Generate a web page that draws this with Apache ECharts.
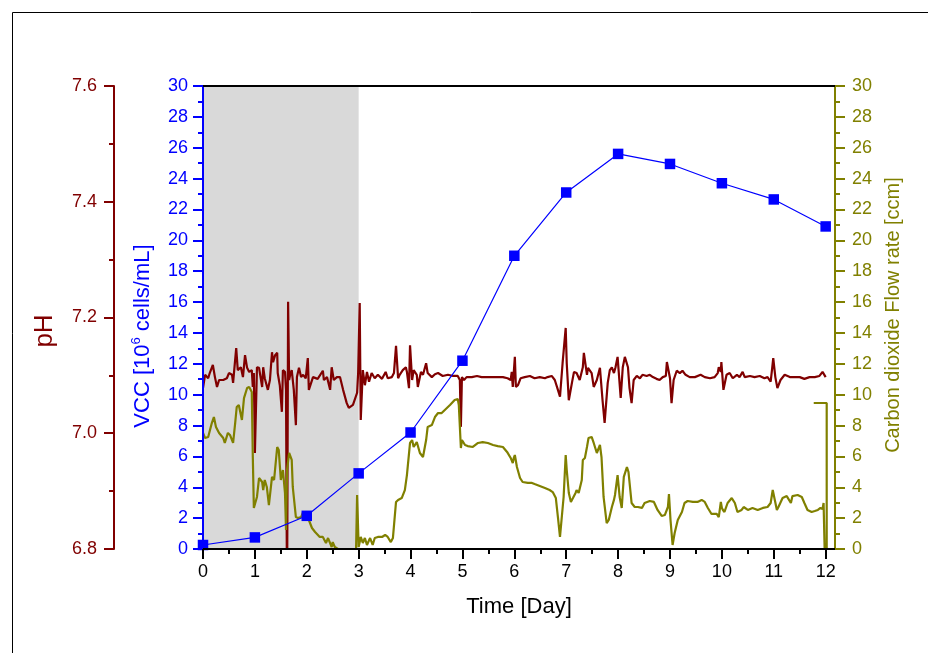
<!DOCTYPE html>
<html>
<head>
<meta charset="utf-8">
<script src="https://cdn.jsdelivr.net/npm/echarts@6/dist/echarts.min.js"></script>
<style>
html,body{margin:0;padding:0;background:#fff;}
#c{width:928px;height:653px;}
</style>
</head>
<body>
<div id="c"></div>
<script>
// ---- data ----
const xTicks = [0,1,2,3,4,5,6,7,8,9,10,11,12];
const xMinorTicks = [0.5,1.5,2.5,3.5,4.5,5.5,6.5,7.5,8.5,9.5,10.5,11.5];
const shadeRange = [0, 3];
const vccDays = [0,1,2,3,4,5,6,7,8,9,10,11,12];
const vccValues = [0.26,0.75,2.15,4.9,7.55,12.2,19.0,23.1,25.6,24.95,23.7,22.65,20.9];

const phSeries = [[0.00,7.078],[0.04,7.101],[0.10,7.095],[0.13,7.104],[0.19,7.118],[0.23,7.097],[0.27,7.080],[0.31,7.092],[0.39,7.092],[0.46,7.095],[0.50,7.104],[0.56,7.101],[0.58,7.087],[0.64,7.147],[0.67,7.109],[0.73,7.114],[0.77,7.097],[0.81,7.135],[0.85,7.113],[0.89,7.106],[0.94,7.109],[0.96,7.080],[0.98,7.104],[1.00,6.966],[1.04,7.114],[1.08,7.113],[1.14,7.080],[1.16,7.114],[1.19,7.095],[1.25,7.075],[1.29,7.092],[1.33,7.140],[1.35,7.123],[1.39,7.135],[1.43,7.139],[1.44,7.104],[1.48,7.083],[1.52,7.037],[1.54,7.109],[1.58,7.106],[1.60,7.075],[1.62,6.70],[1.64,7.227],[1.66,7.092],[1.68,7.101],[1.71,7.109],[1.75,7.075],[1.79,7.014],[1.81,7.097],[1.85,7.113],[1.89,7.097],[1.93,7.101],[1.98,7.095],[2.02,7.130],[2.04,7.075],[2.12,7.097],[2.21,7.094],[2.31,7.108],[2.33,7.092],[2.39,7.097],[2.45,7.075],[2.48,7.114],[2.52,7.092],[2.58,7.097],[2.64,7.097],[2.70,7.075],[2.77,7.052],[2.81,7.044],[2.89,7.049],[2.97,7.070],[2.99,7.104],[3.02,7.225],[3.04,7.023],[3.08,7.109],[3.12,7.083],[3.16,7.106],[3.20,7.089],[3.25,7.104],[3.31,7.095],[3.37,7.101],[3.45,7.094],[3.52,7.106],[3.56,7.095],[3.64,7.097],[3.68,7.104],[3.72,7.151],[3.76,7.095],[3.79,7.101],[3.85,7.109],[3.91,7.114],[3.93,7.106],[3.97,7.078],[3.99,7.152],[4.03,7.092],[4.06,7.109],[4.12,7.101],[4.14,7.080],[4.20,7.106],[4.24,7.101],[4.30,7.121],[4.33,7.104],[4.41,7.097],[4.47,7.102],[4.53,7.104],[4.62,7.099],[4.72,7.101],[4.82,7.099],[4.91,7.099],[4.95,7.092],[4.97,7.011],[4.99,7.097],[5.03,7.092],[5.08,7.097],[5.18,7.097],[5.28,7.099],[5.37,7.097],[5.51,7.097],[5.64,7.097],[5.78,7.097],[5.87,7.095],[5.93,7.092],[5.95,7.106],[5.97,7.080],[6.01,7.132],[6.03,7.080],[6.07,7.083],[6.12,7.095],[6.20,7.097],[6.30,7.099],[6.39,7.095],[6.49,7.097],[6.59,7.095],[6.64,7.097],[6.72,7.099],[6.78,7.092],[6.84,7.075],[6.88,7.063],[6.93,7.121],[6.99,7.182],[7.01,7.121],[7.05,7.057],[7.11,7.087],[7.15,7.106],[7.20,7.104],[7.26,7.092],[7.32,7.114],[7.34,7.139],[7.40,7.101],[7.42,7.113],[7.49,7.104],[7.53,7.080],[7.59,7.092],[7.65,7.113],[7.70,7.057],[7.74,7.018],[7.80,7.087],[7.84,7.109],[7.88,7.114],[7.92,7.104],[7.95,7.114],[7.99,7.132],[8.01,7.135],[8.05,7.061],[8.09,7.114],[8.13,7.132],[8.19,7.114],[8.22,7.078],[8.26,7.052],[8.30,7.092],[8.36,7.099],[8.42,7.095],[8.47,7.101],[8.55,7.099],[8.61,7.101],[8.67,7.097],[8.74,7.094],[8.80,7.092],[8.86,7.097],[8.92,7.099],[8.94,7.123],[8.96,7.123],[9.00,7.095],[9.03,7.052],[9.07,7.092],[9.13,7.108],[9.19,7.104],[9.24,7.108],[9.30,7.101],[9.38,7.097],[9.48,7.097],[9.59,7.101],[9.67,7.097],[9.77,7.095],[9.86,7.097],[9.92,7.104],[9.94,7.114],[9.98,7.106],[9.99,7.123],[10.03,7.075],[10.09,7.101],[10.15,7.104],[10.21,7.095],[10.29,7.101],[10.34,7.097],[10.40,7.106],[10.44,7.097],[10.54,7.099],[10.63,7.097],[10.73,7.099],[10.82,7.095],[10.88,7.097],[10.94,7.089],[10.97,7.113],[10.99,7.130],[11.03,7.097],[11.07,7.078],[11.13,7.092],[11.21,7.101],[11.31,7.097],[11.40,7.097],[11.50,7.097],[11.59,7.094],[11.69,7.097],[11.79,7.097],[11.88,7.099],[11.94,7.106],[12.00,7.097]];

const co2Series = [[0.00,7.52],[0.04,7.19],[0.10,7.26],[0.17,8.16],[0.21,8.55],[0.25,7.91],[0.31,7.52],[0.39,7.19],[0.42,6.87],[0.48,7.52],[0.52,7.39],[0.58,6.87],[0.62,8.16],[0.65,9.20],[0.69,9.33],[0.75,8.36],[0.79,9.78],[0.85,10.43],[0.89,10.50],[0.94,10.17],[0.96,5.96],[0.98,2.66],[1.04,3.37],[1.08,4.60],[1.14,4.34],[1.16,3.82],[1.19,4.47],[1.23,4.02],[1.27,2.85],[1.33,4.67],[1.37,4.47],[1.43,6.61],[1.46,6.41],[1.50,4.47],[1.54,5.12],[1.58,3.63],[1.60,1.23],[1.62,5.12],[1.66,6.22],[1.71,5.77],[1.73,4.02],[1.79,2.07],[1.83,2.01],[1.89,2.07],[1.93,2.40],[2.00,2.07],[2.04,1.88],[2.10,1.36],[2.16,1.10],[2.25,0.78],[2.31,0.78],[2.37,0.39],[2.41,0.71],[2.48,0.13],[2.50,0.45],[2.54,0.13],[2.60,0],[2.95,0],[2.97,3.50],[3.00,0.13],[3.04,0.78],[3.08,0.39],[3.12,0.71],[3.16,0.26],[3.22,0.71],[3.27,0.26],[3.31,0.71],[3.37,0.78],[3.45,0.78],[3.51,0.91],[3.56,0.78],[3.62,0.45],[3.66,0.71],[3.72,3.05],[3.76,3.18],[3.83,3.30],[3.89,3.82],[3.93,4.79],[3.95,4.67],[3.99,6.87],[4.03,7.06],[4.06,6.61],[4.12,6.93],[4.18,6.22],[4.24,5.96],[4.30,7.06],[4.33,7.91],[4.41,8.03],[4.47,8.55],[4.53,8.81],[4.60,8.81],[4.66,9.01],[4.76,9.33],[4.85,9.65],[4.91,9.72],[4.93,9.33],[4.97,6.54],[4.99,7.06],[5.05,6.74],[5.10,6.67],[5.20,6.61],[5.30,6.87],[5.39,6.93],[5.49,6.87],[5.59,6.74],[5.68,6.67],[5.78,6.61],[5.86,6.29],[5.89,6.22],[5.93,5.90],[5.97,5.57],[5.99,5.90],[6.01,6.09],[6.05,5.31],[6.11,4.60],[6.16,4.34],[6.26,4.28],[6.34,4.28],[6.39,4.21],[6.49,4.08],[6.59,3.95],[6.68,3.82],[6.74,3.69],[6.80,3.30],[6.84,2.07],[6.88,0.78],[6.91,0.71],[6.95,3.37],[6.99,6.09],[7.01,5.12],[7.05,3.63],[7.09,3.05],[7.13,3.30],[7.18,3.63],[7.20,3.82],[7.24,3.63],[7.30,4.47],[7.32,5.77],[7.36,5.90],[7.40,6.61],[7.43,7.19],[7.49,7.26],[7.53,6.87],[7.59,6.22],[7.65,6.74],[7.68,5.96],[7.72,3.37],[7.78,1.68],[7.82,1.88],[7.88,2.72],[7.92,3.18],[7.94,3.50],[7.99,4.79],[8.03,3.37],[8.07,2.66],[8.11,4.67],[8.17,5.31],[8.20,4.99],[8.26,2.98],[8.32,2.72],[8.38,2.72],[8.46,2.66],[8.51,2.98],[8.61,3.11],[8.69,3.05],[8.76,2.53],[8.84,2.14],[8.90,2.20],[8.96,2.72],[8.98,3.56],[9.01,1.88],[9.05,0.26],[9.09,1.04],[9.15,1.88],[9.23,2.40],[9.28,2.98],[9.34,3.11],[9.44,3.05],[9.53,3.05],[9.61,3.18],[9.67,3.05],[9.73,2.66],[9.80,2.27],[9.90,2.27],[9.94,2.07],[9.98,3.05],[10.00,2.66],[10.02,2.53],[10.05,2.40],[10.11,2.98],[10.19,3.30],[10.25,2.98],[10.30,2.40],[10.38,2.53],[10.42,2.72],[10.50,2.53],[10.59,2.66],[10.69,2.53],[10.79,2.66],[10.88,2.72],[10.94,2.98],[10.98,3.82],[11.02,3.18],[11.06,2.53],[11.09,2.72],[11.17,3.30],[11.25,3.43],[11.33,2.98],[11.36,3.43],[11.46,3.50],[11.54,3.37],[11.59,2.98],[11.65,2.53],[11.73,2.40],[11.79,2.46],[11.85,2.53],[11.90,2.66],[11.94,2.59],[11.96,2.98],[11.98,0],[11.98,'-'],[11.77,9.46],[12.02,9.46],[12.02,0]];

const phTicksMin = 6.8, phTicksMax = 7.6, phInterval = 0.2;
const leftMax = 30, leftInterval = 2;

// ---- styles ----
const RED = '#800000', BLUE = '#0000ff', OLIVE = '#808000';
const FONT = 'Liberation Sans, Arial, sans-serif';
const chart = echarts.init(document.getElementById('c'));

function yAx(color, extra) {
  return Object.assign({
    type: 'value', z: 10,
    axisLine: {show: true, onZero: false, lineStyle: {color: color, width: 2}},
    axisTick: {show: true, inside: false, length: 10, lineStyle: {color: color, width: 2}},
    minorTick: {show: true, splitNumber: 2, length: 5, lineStyle: {color: color, width: 2}},
    axisLabel: {color: color, fontSize: 18, fontFamily: FONT},
    splitLine: {show: false}, minorSplitLine: {show: false}
  }, extra);
}

const vccData = vccDays.map((d, i) => [d, vccValues[i]]);

chart.setOption({
  animation: false,
  backgroundColor: '#fff',
  grid: {left: 203, right: 93, top: 86, bottom: 104, containLabel: false},
  xAxis: [
    {type: 'value', min: 0, max: 12.18, position: 'bottom', z: 10,
     axisLine: {show: true, onZero: false, lineStyle: {color: '#000', width: 2}},
     axisTick: {show: true, length: 10, customValues: xTicks, lineStyle: {color: '#000', width: 2}},
     axisLabel: {customValues: xTicks, color: '#000', fontSize: 18, fontFamily: FONT, margin: 14},
     splitLine: {show: false}},
    {type: 'value', min: 0, max: 12.18, position: 'bottom', z: 10,
     axisLine: {show: false},
     axisTick: {show: true, length: 5, customValues: xMinorTicks, lineStyle: {color: '#000', width: 2}},
     axisLabel: {show: false}, splitLine: {show: false}},
    {type: 'value', min: 0, max: 12.18, position: 'top', z: 10,
     axisLine: {show: true, onZero: false, lineStyle: {color: '#000', width: 2}},
     axisTick: {show: false}, axisLabel: {show: false}, splitLine: {show: false}}
  ],
  yAxis: [
    yAx(BLUE, {min: 0, max: leftMax, interval: leftInterval, position: 'left', axisLabel: {color: BLUE, fontSize: 18, fontFamily: FONT, margin: 15}}),
    yAx(RED, {min: phTicksMin, max: phTicksMax, interval: phInterval, position: 'left', offset: 89,
      axisLabel: {color: RED, fontSize: 18, fontFamily: FONT, margin: 17, formatter: v => v.toFixed(1)}}),
    yAx(OLIVE, {min: 0, max: leftMax, interval: leftInterval, position: 'right', axisLabel: {color: OLIVE, fontSize: 18, fontFamily: FONT, margin: 17}})
  ],
  series: [
    {type: 'line', data: [], z: 1, xAxisIndex: 0, yAxisIndex: 0, silent: true,
     markArea: {silent: true, itemStyle: {color: '#d9d9d9'},
       data: [[{xAxis: shadeRange[0], yAxis: 0}, {xAxis: shadeRange[1], yAxis: leftMax}]]}},
    {name: 'pH', type: 'line', data: phSeries, xAxisIndex: 0, yAxisIndex: 1, z: 3,
     showSymbol: false, symbol: 'none', clip: true,
     lineStyle: {color: RED, width: 2.2}},
    {name: 'CO2', type: 'line', data: co2Series, xAxisIndex: 0, yAxisIndex: 2, z: 3,
     showSymbol: false, symbol: 'none', clip: true, connectNulls: false,
     lineStyle: {color: OLIVE, width: 2.2}},
    {name: 'VCC', type: 'line', data: vccData, xAxisIndex: 0, yAxisIndex: 0, z: 4,
     symbol: 'rect', symbolSize: 10.5, clip: true,
     itemStyle: {color: BLUE}, lineStyle: {color: BLUE, width: 1.2}}
  ],
  graphic: [
    {type: 'rect', silent: true, shape: {x: 12.5, y: 12.5, width: 2000, height: 2000},
     style: {fill: 'none', stroke: '#000', lineWidth: 1}},
    {type: 'text', x: 45, y: 331, rotation: Math.PI / 2, silent: true,
     style: {text: 'pH', fill: RED, font: '26px ' + FONT, align: 'center', verticalAlign: 'middle'}},
    {type: 'text', x: 143, y: 336, rotation: Math.PI / 2, silent: true,
     style: {text: '{a|VCC [10}{s|6}{a| cells/mL]}', align: 'center', verticalAlign: 'middle',
       rich: {a: {fill: BLUE, fontSize: 22, fontFamily: FONT, lineHeight: 26},
              s: {fill: BLUE, fontSize: 13, fontFamily: FONT, lineHeight: 16, verticalAlign: 'top'}}}},
    {type: 'text', x: 893, y: 315, rotation: Math.PI / 2, silent: true,
     style: {text: 'Carbon dioxide Flow rate [ccm]', fill: OLIVE, font: '20px ' + FONT, align: 'center', verticalAlign: 'middle'}},
    {type: 'text', x: 519, y: 607, silent: true,
     style: {text: 'Time [Day]', fill: '#000', font: '22px ' + FONT, align: 'center', verticalAlign: 'middle'}}
  ]
});
</script>
</body>
</html>
